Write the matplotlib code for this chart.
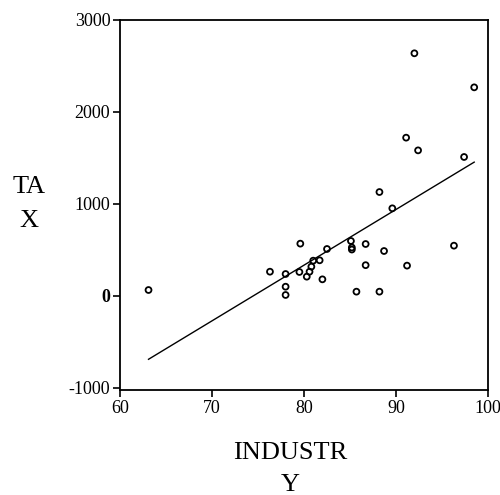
import matplotlib
matplotlib.use("Agg")
import matplotlib.pyplot as plt

# data
industry = [92.0, 98.5, 91.1, 92.4, 97.4, 88.2, 89.6, 63.1, 76.3, 78.0, 78.0, 78.0,
            79.6, 79.5, 80.3, 80.6, 80.8, 81.0, 81.7, 82.0, 82.5, 85.1, 85.2, 85.2,
            86.7, 86.7, 85.7, 88.7, 91.2, 96.3, 88.2]
tax = [2638, 2268, 1721, 1583, 1511, 1130, 953, 65, 264, 239, 101, 11,
       569, 261, 210, 264, 319, 384, 388, 181, 511, 598, 527, 505,
       565, 335, 47, 489, 330, 547, 47]
fit_x = [63.1, 98.5]
fit_y = [-688, 1455]

xticks = [60, 70, 80, 90, 100]
yticks = [-1000, 0, 1000, 2000, 3000]
ytick_labels = ["-1000", "0", "1000", "2000", "3000"]

fig = plt.figure(figsize=(5.0, 4.95), dpi=100)
ax = fig.add_axes([0.24, 0.2121, 0.736, 0.7475])
serif = "Liberation Serif"

ax.plot(fit_x, fit_y, color="black", lw=1.0)
ax.scatter(industry, tax, s=18, facecolors="none", edgecolors="black", linewidths=1.3, zorder=3)

ax.set_xlim(60, 100)
ax.set_ylim(-1022, 3000)
ax.set_xticks(xticks)
ax.set_yticks(yticks)
ax.set_xticklabels([str(v) for v in xticks], fontfamily=serif, fontsize=13)
ax.set_yticklabels(ytick_labels, fontfamily=serif, fontsize=13)
for lab in ax.get_yticklabels():
    if lab.get_text() == "0":
        lab.set_fontweight("bold")
ax.tick_params(direction="out", length=5, width=1.2, pad=2)
for s in ax.spines.values():
    s.set_linewidth(1.3)

fig.text(29 / 500, 1 - 187 / 495, "TA", fontfamily=serif, fontsize=19, ha="center", va="center")
fig.text(29 / 500, 1 - 221 / 495, "X", fontfamily=serif, fontsize=19, ha="center", va="center")
fig.text(290 / 500, 1 - 453 / 495, "INDUSTR", fontfamily=serif, fontsize=19, ha="center", va="center")
fig.text(290 / 500, 1 - 485 / 495, "Y", fontfamily=serif, fontsize=19, ha="center", va="center")

fig.savefig("out.png", dpi=100)
